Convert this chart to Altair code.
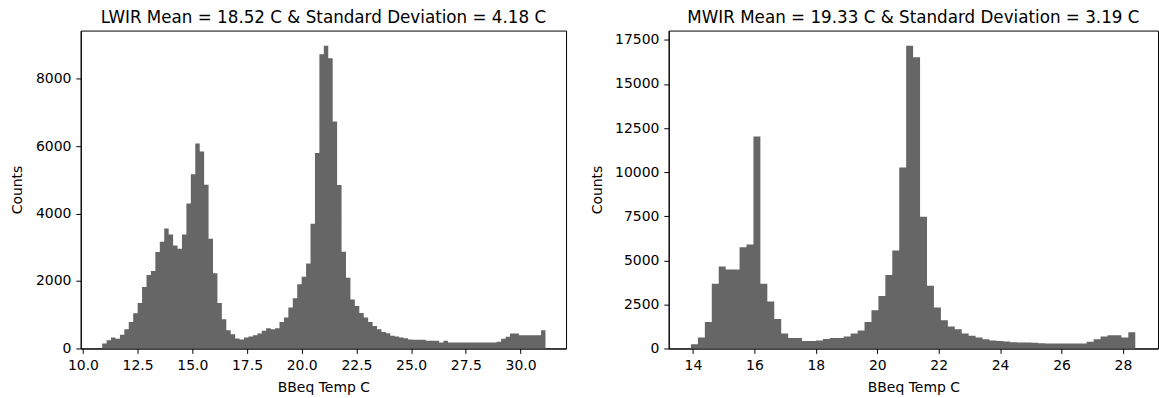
import altair as alt
import numpy as np
import pandas as pd

# ---------------- data ----------------
LWIR_TITLE = "LWIR Mean = 18.52 C & Standard Deviation = 4.18 C"
MWIR_TITLE = "MWIR Mean = 19.33 C & Standard Deviation = 3.19 C"
X_TITLE = "BBeq Temp C"
Y_TITLE = "Counts"

# LWIR histogram: 100 bins between these limits
LWIR_RANGE = [10.88, 31.14]
LWIR_COUNTS = [
    148, 246, 325, 286, 404, 571, 788, 1044, 1350, 1822,
    2177, 2295, 2857, 3162, 3555, 3378, 3053, 2955, 3378, 4295,
    5161, 6077, 5840, 4856, 3250, 2226, 1349, 867, 542, 424,
    296, 266, 325, 355, 394, 443, 522, 600, 571, 600,
    788, 916, 1212, 1487, 1900, 2128, 2522, 3694, 5792, 8717,
    8973, 8601, 6728, 4848, 2867, 2099, 1448, 1260, 1053, 916,
    787, 669, 571, 492, 453, 374, 355, 325, 300, 266,
    256, 256, 256, 227, 227, 227, 177, 227, 177, 177,
    177, 177, 177, 177, 177, 177, 177, 177, 177, 197,
    286, 345, 443, 443, 394, 394, 394, 394, 394, 542,
]

# MWIR histogram: 64 bins between these limits
MWIR_RANGE = [13.935, 28.40]
MWIR_COUNTS = [
    243, 620, 1505, 3676, 4655, 4485, 4485, 5747, 5899, 12025,
    3676, 2658, 1674, 848, 600, 600, 430, 430, 450, 543,
    600, 600, 677, 848, 1018, 1505, 2167, 2978, 4165, 5560,
    10271, 17172, 16515, 7466, 3563, 2318, 1602, 1244, 1093, 848,
    716, 620, 526, 450, 430, 400, 350, 340, 340, 330,
    290, 283, 283, 283, 283, 283, 283, 375, 526, 677,
    752, 752, 620, 922,
]

LWIR_XTICKS = [10.0, 12.5, 15.0, 17.5, 20.0, 22.5, 25.0, 27.5, 30.0]
LWIR_YTICKS = [0, 2000, 4000, 6000, 8000]
MWIR_XTICKS = [14, 16, 18, 20, 22, 24, 26, 28]
MWIR_YTICKS = [0, 2500, 5000, 7500, 10000, 12500, 15000, 17500]

LWIR_XDOMAIN = [9.90, 32.08]
MWIR_XDOMAIN = [13.21, 29.14]

BAR_COLOR = "#666666"
FONT = "DejaVu Sans"


def hist_frame(counts, rng):
    # step outline: one point per left bin edge, plus the closing right edge
    edges = np.linspace(rng[0], rng[1], len(counts) + 1)
    return pd.DataFrame({
        "edge": edges,
        "count": list(counts) + [counts[-1]],
    })


def panel(counts, rng, title, xdom, xticks, xfmt, yticks, width):
    df = hist_frame(counts, rng)
    ymax = max(counts) * 1.05
    return (
        alt.Chart(df, title=alt.Title(title))
        .mark_area(color=BAR_COLOR, interpolate="step-after", opacity=1)
        .encode(
            x=alt.X("edge:Q",
                    scale=alt.Scale(domain=xdom, nice=False, zero=False),
                    axis=alt.Axis(values=xticks, format=xfmt, title=X_TITLE)),
            y=alt.Y("count:Q",
                    scale=alt.Scale(domain=[0, ymax], nice=False, zero=True),
                    axis=alt.Axis(values=yticks, format="d", title=Y_TITLE)),
        )
        .properties(width=width, height=319)
    )


left = panel(LWIR_COUNTS, LWIR_RANGE, LWIR_TITLE, LWIR_XDOMAIN,
             LWIR_XTICKS, ".1f", LWIR_YTICKS, 487)
right = panel(MWIR_COUNTS, MWIR_RANGE, MWIR_TITLE, MWIR_XDOMAIN,
              MWIR_XTICKS, "d", MWIR_YTICKS, 491)

chart = (
    alt.hconcat(left, right, spacing=22)
    .properties(padding={"left": 10, "top": 8, "right": 0, "bottom": 0})
    .configure_view(stroke="#000000", strokeWidth=1)
    .configure_axis(
        grid=False,
        domainColor="#000000",
        tickColor="#000000",
        tickSize=4.9,
        labelPadding=4.9,
        labelFont=FONT,
        labelFontSize=14,
        labelColor="#000000",
        labelFlush=False,
        labelOverlap=False,
        titleFont=FONT,
        titleFontSize=14,
        titleFontWeight="normal",
        titleColor="#000000",
    )
    .configure_axisY(titlePadding=10.5)
    .configure_axisX(titlePadding=8)
    .configure_title(font=FONT, fontSize=16.8, fontWeight="normal",
                     color="#000000", anchor="middle", offset=4)
)

chart.save("out.html", embed_options={"renderer": "svg", "actions": False})
